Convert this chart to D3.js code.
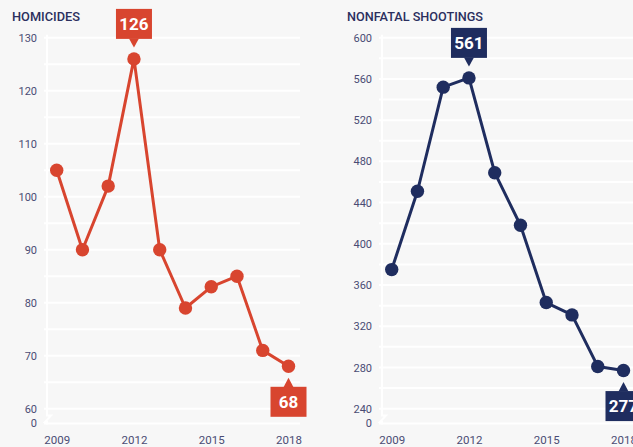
<!DOCTYPE html>
<html>
<head>
<meta charset="utf-8">
<script src="https://cdn.jsdelivr.net/npm/d3@7/dist/d3.min.js"></script>
<style>
html,body{margin:0;padding:0;background:#f7f7f7;}
svg{display:block;}
</style>
</head>
<body>
<svg id="chart" width="633" height="447"></svg>
<script>
const years = [2009,2010,2011,2012,2013,2014,2015,2016,2017,2018];
const homicides = [105,90,102,126,90,79,83,85,71,68];
const shootings = [375,451,552,561,469,418,343,331,281,277];
const yearTicks = [2009,2012,2015,2018];
const homTicks = [60,70,80,90,100,110,120,130];
const shootTicks = [240,280,320,360,400,440,480,520,560,600];

const svg = d3.select("#chart");
const bg = "#f7f7f7";
svg.append("rect").attr("width",633).attr("height",447).attr("fill",bg);

const panels = [
  {title:"HOMICIDES", titleLen:68, data:homicides, ticks:homTicks, domain:[60,130], grid:5, color:"#d8452f", x0:0,
   callouts:[{i:3,pos:"top"},{i:9,pos:"bottom"}]},
  {title:"NONFATAL SHOOTINGS", titleLen:136, data:shootings, ticks:shootTicks, domain:[240,600], grid:20, color:"#1f2d5f", x0:335,
   callouts:[{i:3,pos:"top"},{i:9,pos:"bottom"}]}
];

panels.forEach(p => {
  const g = svg.append("g").attr("transform",`translate(${p.x0},0)`);
  const x = d3.scaleLinear().domain([2009,2018]).range([56.7,288.5]);
  const y = d3.scaleLinear().domain(p.domain).range([408.7,37.7]);
  const axisX = 47, gridL = 44, gridR = 300, zeroY = 423.5;

  // gridlines
  const gridVals = d3.range(p.domain[0], p.domain[1]+0.001, p.grid);
  g.selectAll("line.grid").data(gridVals).enter().append("line")
    .attr("x1",gridL).attr("x2",gridR)
    .attr("y1",d=>y(d)).attr("y2",d=>y(d))
    .attr("stroke","#fff").attr("stroke-width",2);
  g.append("line").attr("x1",gridL).attr("x2",gridR).attr("y1",zeroY).attr("y2",zeroY)
    .attr("stroke","#fff").attr("stroke-width",2);

  // y axis line with break
  g.append("path")
    .attr("d",`M${axisX},${y(p.domain[1])-3} L${axisX},415.5 L${axisX+4},415.5 L${axisX-2},422 L${axisX},422 L${axisX},${zeroY+1}`)
    .attr("fill","none").attr("stroke","#fff").attr("stroke-width",2);

  // y tick labels
  const yAxis = d3.axisLeft(y).tickValues(p.ticks).tickSize(0).tickPadding(0);
  const ya = g.append("g").attr("transform",`translate(37,0)`).call(yAxis);
  ya.select(".domain").remove();
  ya.selectAll("text").attr("font-family","Roboto, sans-serif").attr("font-size","11px").attr("fill","#4a4c74");
  g.append("text").attr("x",37).attr("y",zeroY).attr("dy","0.35em").attr("text-anchor","end")
    .attr("font-family","Roboto, sans-serif").attr("font-size","11px").attr("fill","#4a4c74").text("0");

  // x tick labels
  const xAxis = d3.axisBottom(x).tickValues(yearTicks).tickFormat(d3.format("d")).tickSize(0).tickPadding(0);
  const xa = g.append("g").attr("transform",`translate(0,436)`).call(xAxis);
  xa.select(".domain").remove();
  xa.selectAll("text").attr("font-family","Roboto, sans-serif").attr("font-size","11.5px").attr("fill","#4a4c74");

  // title
  g.append("text").attr("x",12).attr("y",20.5)
    .attr("font-family","Roboto, sans-serif").attr("font-size","13.5px").attr("font-weight",500)
    .attr("fill","#2b2f5e").attr("textLength",p.titleLen).attr("lengthAdjust","spacingAndGlyphs").text(p.title);

  // line
  const line = d3.line().x((d,i)=>x(years[i])).y(d=>y(d));
  g.append("path").datum(p.data).attr("d",line).attr("fill","none")
    .attr("stroke",p.color).attr("stroke-width",3).attr("stroke-linejoin","round");
  g.selectAll("circle.pt").data(p.data).enter().append("circle")
    .attr("cx",(d,i)=>x(years[i])).attr("cy",d=>y(d)).attr("r",6.7).attr("fill",p.color);

  // callouts
  p.callouts.forEach(c => {
    const cx = x(years[c.i]), cy = y(p.data[c.i]);
    const w = 36, h = 30, hw = 5;
    let boxY, tipY, baseY;
    if (c.pos === "top") { tipY = cy - 11.5; baseY = cy - 20; boxY = baseY - h; }
    else { tipY = cy + 11.5; baseY = cy + 20.5; boxY = baseY; }
    g.append("rect").attr("x",cx-w/2).attr("y",boxY).attr("width",w).attr("height",h).attr("fill",p.color);
    g.append("path").attr("d",`M${cx-hw},${baseY + (c.pos==="top"?-0.5:0.5)} L${cx},${tipY} L${cx+hw},${baseY + (c.pos==="top"?-0.5:0.5)} Z`).attr("fill",p.color);
    g.append("text").attr("x",cx).attr("y",boxY+h/2).attr("dy","0.36em").attr("text-anchor","middle")
      .attr("font-family","Roboto, sans-serif").attr("font-size","17px").attr("font-weight",700)
      .attr("fill","#fff").text(p.data[c.i]);
  });
});
</script>
</body>
</html>
